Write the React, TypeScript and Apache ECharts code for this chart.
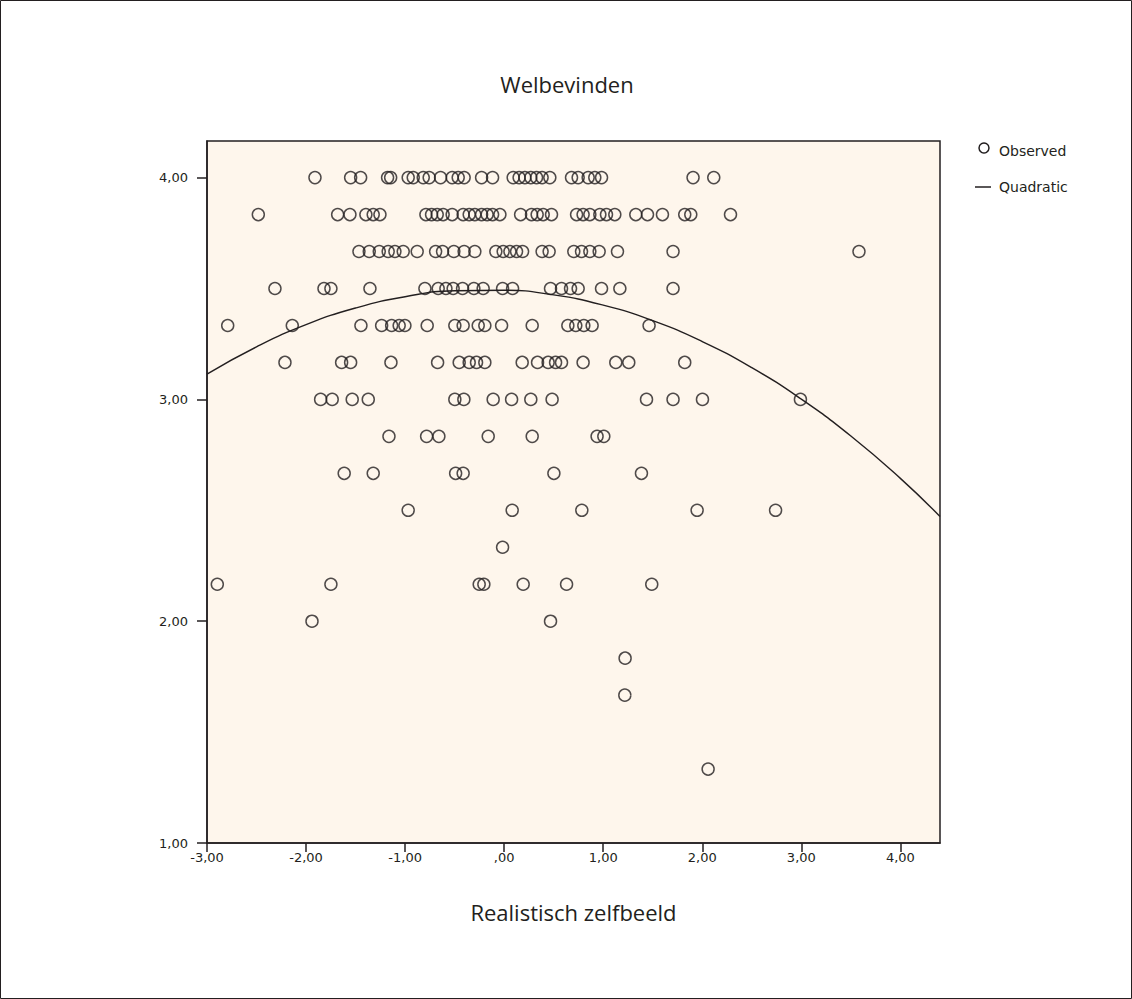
import React, { useEffect, useRef } from "react";
import * as echarts from "echarts";

// Observed values: one array of x values per y level (Welbevinden)
const yLevels = [4.0, 3.8333, 3.6667, 3.5, 3.3333, 3.1667, 3.0, 2.8333, 2.6667, 2.5, 2.3333, 2.1667, 2.0, 1.8333, 1.6667, 1.3333];

const xAt4000 = [-1.910, -1.550, -1.449, -1.177, -1.146, -0.969, -0.918, -0.817, -0.757, -0.642, -0.525, -0.464, -0.404, -0.228, -0.117, 0.091, 0.151, 0.209, 0.269, 0.327, 0.383, 0.461, 0.680, 0.747, 0.848, 0.915, 0.983, 1.907, 2.116];
const xAt3833 = [-2.482, -1.681, -1.557, -1.396, -1.322, -1.254, -0.790, -0.733, -0.676, -0.616, -0.525, -0.414, -0.353, -0.296, -0.228, -0.172, -0.117, -0.043, 0.166, 0.276, 0.333, 0.394, 0.478, 0.731, 0.797, 0.865, 0.966, 1.033, 1.117, 1.329, 1.447, 1.598, 1.823, 1.884, 2.285];
const xAt3667 = [-1.466, -1.362, -1.261, -1.171, -1.103, -1.019, -0.878, -0.692, -0.622, -0.508, -0.404, -0.296, -0.084, -0.010, 0.058, 0.125, 0.186, 0.383, 0.454, 0.703, 0.781, 0.865, 0.959, 1.144, 1.705, 3.582];
const xAt3500 = [-2.314, -1.819, -1.749, -1.355, -0.800, -0.666, -0.588, -0.515, -0.420, -0.306, -0.212, -0.016, 0.085, 0.468, 0.579, 0.670, 0.747, 0.983, 1.168, 1.705];
const xAt3333 = [-2.791, -2.139, -1.446, -1.237, -1.136, -1.060, -1.002, -0.777, -0.498, -0.414, -0.262, -0.195, -0.026, 0.283, 0.643, 0.723, 0.804, 0.888, 1.463];
const xAt3167 = [-2.213, -1.641, -1.550, -1.143, -0.672, -0.454, -0.353, -0.279, -0.195, 0.182, 0.337, 0.444, 0.519, 0.579, 0.797, 1.127, 1.258, 1.823];
const xAt3000 = [-1.853, -1.736, -1.534, -1.372, -0.498, -0.407, -0.111, 0.075, 0.269, 0.484, 1.437, 1.705, 2.002, 2.991];
const xAt2833 = [-1.163, -0.783, -0.659, -0.161, 0.283, 0.938, 1.006];
const xAt2667 = [-1.615, -1.322, -0.490, -0.414, 0.502, 1.386];
const xAt2500 = [-0.969, 0.081, 0.784, 1.948, 2.740];
const xAt2333 = [-0.016];
const xAt2167 = [-2.896, -1.749, -0.252, -0.205, 0.192, 0.630, 1.490];
const xAt2000 = [-1.940, 0.468];
const xAt1833 = [1.221];
const xAt1667 = [1.218];
const xAt1333 = [2.059];

const rows = [xAt4000, xAt3833, xAt3667, xAt3500, xAt3333, xAt3167, xAt3000, xAt2833, xAt2667, xAt2500, xAt2333, xAt2167, xAt2000, xAt1833, xAt1667, xAt1333];

// Quadratic fit curve
const curveX = [-3.0, -2.5, -2.0, -1.5, -1.0, -0.5, 0.0, 0.5, 1.0, 1.5, 2.0, 2.5, 3.0, 3.5, 4.0, 4.4];
const curveY = [3.114, 3.237, 3.337, 3.412, 3.463, 3.490, 3.492, 3.471, 3.425, 3.355, 3.261, 3.143, 3.001, 2.835, 2.644, 2.472];

const xTicks = [-3, -2, -1, 0, 1, 2, 3, 4];
const yTicks = [1, 2, 3, 4];

const INK = "#231f20";
const FONT = "'Open Sans', 'DejaVu Sans', sans-serif";
const SMALL_FONT = "'DejaVu Sans', sans-serif";

const fmt = (v: number) => {
  const s = Number(v).toFixed(2).replace(".", ",");
  if (s === "0,00" || s === "-0,00") return ",00";
  return s;
};

export default function App() {
  const ref = useRef<HTMLDivElement>(null);

  useEffect(() => {
    if (!ref.current) return;
    const chart = echarts.init(ref.current, undefined, { renderer: "svg" });

    const observed: number[][] = [];
    rows.forEach((xs, i) => xs.forEach((x) => observed.push([x, yLevels[i]])));
    const curve = curveX.map((x, i) => [x, curveY[i]]);

    chart.setOption({
      animation: false,
      backgroundColor: "#ffffff",
      textStyle: { fontFamily: FONT },
      grid: {
        left: 207,
        top: 141,
        right: 192,
        bottom: 156,
        show: true,
        backgroundColor: "#fef6ec",
        borderColor: INK,
        borderWidth: 1.5,
      },
      xAxis: {
        type: "value",
        min: -3,
        max: 4.4,
        name: "Realistisch zelfbeeld",
        nameLocation: "middle",
        nameGap: 58,
        nameTextStyle: { fontSize: 22, color: INK, fontFamily: FONT },
        axisLine: { show: true, onZero: false, lineStyle: { color: INK, width: 1.5 } },
        axisTick: { show: true, inside: false, length: 9, customValues: xTicks, lineStyle: { color: INK, width: 1.5 } },
        axisLabel: { customValues: xTicks, formatter: fmt, fontSize: 13, color: INK, margin: 8, fontFamily: SMALL_FONT },
        splitLine: { show: false },
      },
      yAxis: {
        type: "value",
        min: 1,
        max: 4.165,
        axisLine: { show: true, onZero: false, lineStyle: { color: INK, width: 1.5 } },
        axisTick: { show: true, inside: false, length: 10, customValues: yTicks, lineStyle: { color: INK, width: 1.5 } },
        axisLabel: { customValues: yTicks, formatter: fmt, fontSize: 13, color: INK, margin: 19, fontFamily: SMALL_FONT },
        splitLine: { show: false },
      },
      series: [
        {
          name: "Observed",
          type: "scatter",
          data: observed,
          symbol: "circle",
          symbolSize: 12,
          itemStyle: { color: "rgba(0,0,0,0)", borderColor: INK, borderWidth: 1.5 },
          z: 3,
        },
        {
          name: "Quadratic",
          type: "line",
          data: curve,
          smooth: true,
          showSymbol: false,
          symbol: "none",
          lineStyle: { color: INK, width: 1.4 },
          z: 4,
        },
      ],
      graphic: [
        {
          type: "rect",
          shape: { x: 0.5, y: 0.5, width: 1131, height: 998 },
          style: { fill: "none", stroke: INK, lineWidth: 1 },
          silent: true,
        },
        {
          type: "text",
          x: 567,
          y: 84,
          style: { text: "Welbevinden", fontSize: 22, fill: INK, fontFamily: FONT, align: "center", verticalAlign: "middle" },
        },
        {
          type: "circle",
          shape: { cx: 984, cy: 148, r: 5 },
          style: { fill: "none", stroke: INK, lineWidth: 1.5 },
        },
        {
          type: "text",
          x: 999,
          y: 151,
          style: { text: "Observed", fontSize: 14, fill: INK, fontFamily: SMALL_FONT, align: "left", verticalAlign: "middle" },
        },
        {
          type: "line",
          shape: { x1: 975, y1: 187, x2: 991, y2: 187 },
          style: { stroke: INK, lineWidth: 1.5 },
        },
        {
          type: "text",
          x: 999,
          y: 187,
          style: { text: "Quadratic", fontSize: 14, fill: INK, fontFamily: SMALL_FONT, align: "left", verticalAlign: "middle" },
        },
      ],
    });

    return () => chart.dispose();
  }, []);

  return (
    <div
      ref={ref}
      style={{ position: "absolute", left: 0, top: 0, width: 1132, height: 999 }}
    />
  );
}
